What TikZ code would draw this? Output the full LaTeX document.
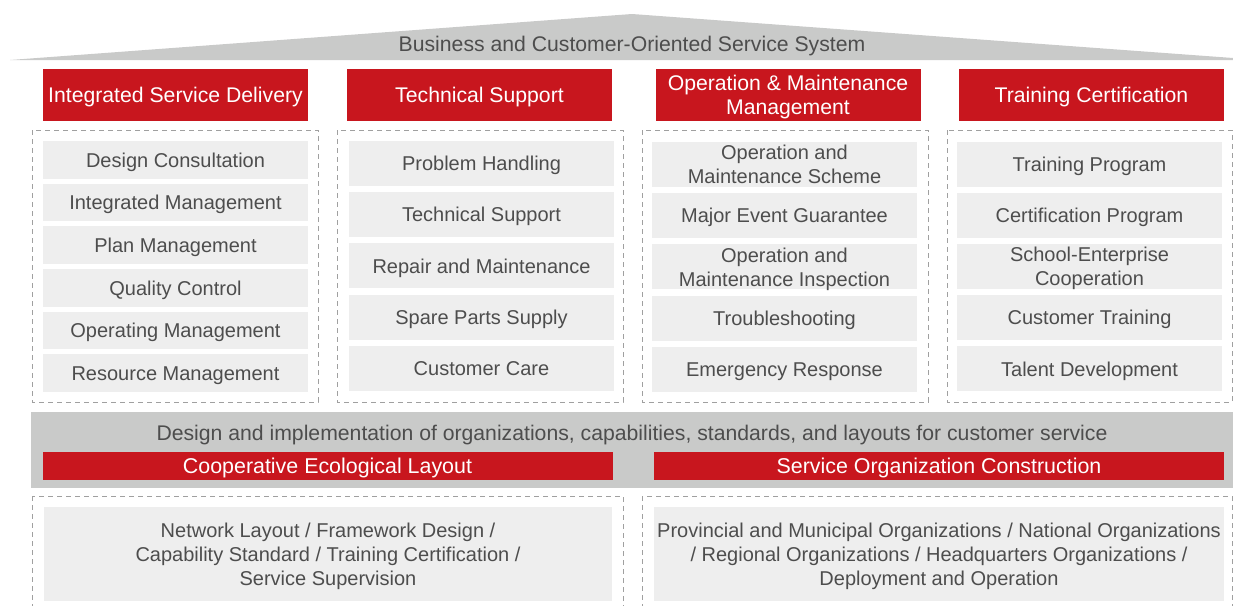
\documentclass[tikz,border=0pt]{standalone}
\usepackage{fontspec}
\setmainfont{Liberation Sans}
\definecolor{brandred}{RGB}{200,22,30}
\definecolor{roofgray}{RGB}{201,202,201}
\definecolor{itemgray}{RGB}{238,238,238}
\definecolor{textgray}{RGB}{77,77,77}
\definecolor{framegray}{RGB}{160,160,160}
\begin{document}
\begin{tikzpicture}[x=1pt,y=-1pt,
    txt/.style={text=textgray,font=\fontsize{20}{24}\selectfont,align=center,inner sep=0pt,text depth=0pt},
    wide/.style={txt,font=\fontsize{21.2}{24}\selectfont},
    head/.style={fill=brandred,text=white,font=\fontsize{21.2}{24}\selectfont,align=center,
      minimum width=265pt,minimum height=52pt,inner sep=0pt,text depth=0pt},
    bar/.style={fill=brandred,text=white,font=\fontsize{21.4}{24}\selectfont,text depth=0pt,
      minimum width=570pt,minimum height=28pt,inner sep=0pt},
    item/.style={txt,fill=itemgray,minimum width=265pt},
    frame/.style={draw=framegray,line width=1pt,dash pattern=on 5pt off 4pt}]
  \useasboundingbox (0,0) rectangle (1233,605);
  \clip (0,0) rectangle (1233,605);
  \fill[roofgray] (10,60) -- (632,14) -- (1233,58) -- (1233,60) -- cycle;
  \node[wide] (roof) at (632,44) {Business and Customer-Oriented Service System};
  \node[head] (isd) at (175.5,95) {Integrated Service Delivery};
  \node[head] (ts) at (479.5,95) {Technical Support};
  \node[head] (om) at (788,95) {Operation \& Maintenance\\Management};
  \node[head] (tc) at (1091.5,95) {Training Certification};
  \draw[frame] (32,130) rectangle (318,402);
  \draw[frame] (337,130) rectangle (623,402);
  \draw[frame] (642,130) rectangle (928,402);
  \draw[frame] (947,130) rectangle (1232,402);
  \foreach \t [count=\i] in {Design Consultation,Integrated Management,Plan Management,
      Quality Control,Operating Management,Resource Management}
    \node[item,minimum height=37.7pt] (isd\i) at (175.5,{159.8+42.7*(\i-1)}) {\t};
  \foreach \t [count=\i] in {Problem Handling,Technical Support,Repair and Maintenance,
      Spare Parts Supply,Customer Care}
    \node[item,minimum height=45pt] (ts\i) at (481.5,{163.5+51.2*(\i-1)}) {\t};
  \foreach \t [count=\i] in {{Operation and\\Maintenance Scheme},Major Event Guarantee,
      {Operation and\\Maintenance Inspection},Troubleshooting,Emergency Response}
    \node[item,minimum height=45pt] (om\i) at (784.5,{164.5+51.2*(\i-1)}) {\t};
  \foreach \t [count=\i] in {Training Program,Certification Program,
      {School-Enterprise\\Cooperation},Customer Training,Talent Development}
    \node[item,minimum height=45pt] (tc\i) at (1089.5,{164+51.2*(\i-1)}) {\t};
  \fill[roofgray] (31,412) rectangle (1233,488);
  \node[wide] (design) at (632,433) {Design and implementation of organizations, capabilities, standards, and layouts for customer service};
  \node[bar] (cel) at (327.5,466) {Cooperative Ecological Layout};
  \node[bar] (soc) at (939,466) {Service Organization Construction};
  \draw[frame] (32,496) rectangle (623,640);
  \draw[frame] (642,496) rectangle (1232,640);
  \node[item,minimum width=568pt,minimum height=94pt] (net) at (328,554)
    {Network Layout / Framework Design /\\Capability Standard / Training Certification /\\Service Supervision};
  \node[item,minimum width=570pt,minimum height=94pt] (org) at (939,554)
    {Provincial and Municipal Organizations / National Organizations\\/ Regional Organizations / Headquarters Organizations /\\Deployment and Operation};
\end{tikzpicture}
\end{document}
